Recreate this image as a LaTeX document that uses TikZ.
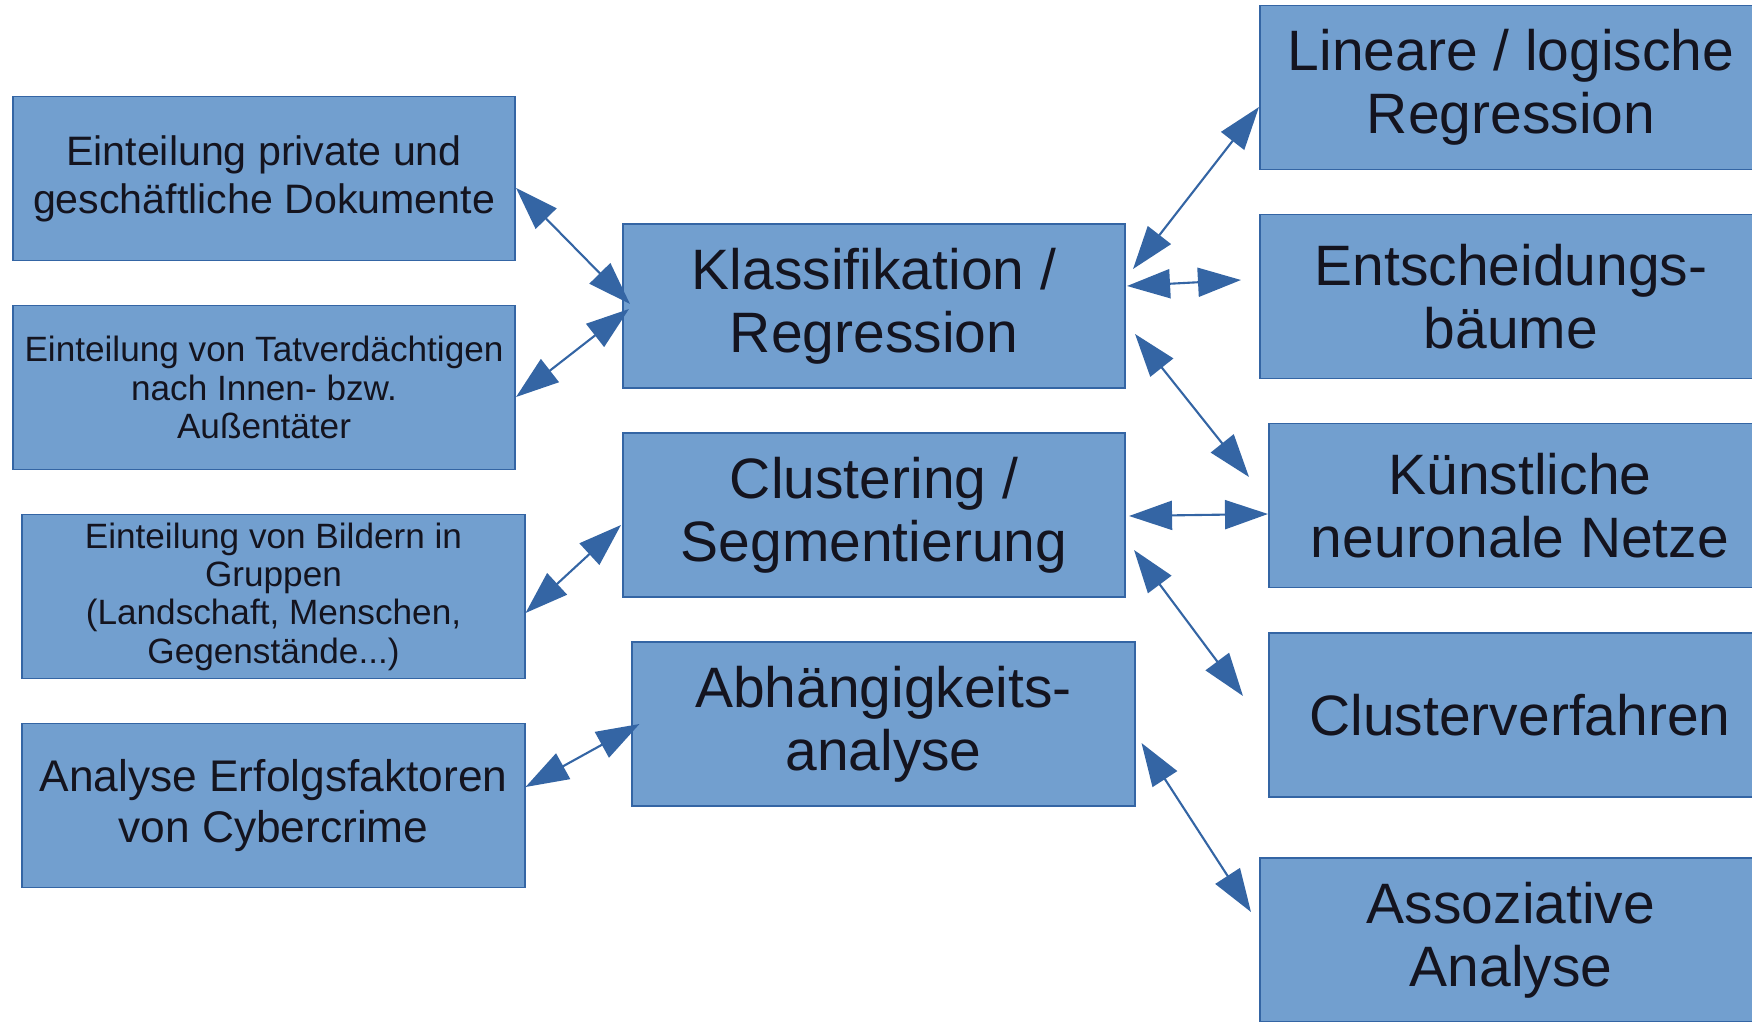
\documentclass[tikz,border=0pt]{standalone}
\usepackage{fontspec}
\setmainfont{Liberation Sans}
\usepackage{xcolor}
\usetikzlibrary{arrows.meta}

\definecolor{boxfill}{HTML}{729FCF}
\definecolor{boxline}{HTML}{3465A4}
\definecolor{arrowblue}{HTML}{3465A4}
\definecolor{textdark}{HTML}{14141F}

\tikzset{
  box/.style={rectangle,draw=boxline,fill=boxfill,line width=0.5pt,minimum width=5.02cm,minimum height=1.64cm,inner sep=0pt,align=center,text=textdark},
  big/.style={font=\fontsize{16.2}{18}\selectfont},
  mid/.style={font=\fontsize{11.7}{13.6}\selectfont},
  midb/.style={font=\fontsize{12.6}{14.3}\selectfont},
  small/.style={font=\fontsize{10}{10.9}\selectfont},
  link/.style={draw=arrowblue,line width=0.6pt,{Triangle[length=4.3mm,width=2.9mm]}-{Triangle[length=4.3mm,width=2.9mm]}}
}

\begin{document}
\begin{tikzpicture}[x=0.01cm,y=-0.01cm]
            \useasboundingbox (0,0) rectangle (1752,1022);
            \clip (0,0) rectangle (1752,1022);

            \node (a) at (264,178.5) [box,mid] {Einteilung private und\\geschäftliche Dokumente};
            \node (b) at (264,387.5) [box,small] {Einteilung von Tatverdächtigen\\nach Innen- bzw.\\Außentäter};
            \node (c) at (273.5,596.5) [box,small] {Einteilung von Bildern in\\Gruppen\\(Landschaft, Menschen,\\Gegenstände...)};
            \node (d) at (273.5,805.5) [box,midb] {Analyse Erfolgsfaktoren\\von Cybercrime};

            \node (e) at (874,306) [box,big] {Klassifikation /\\Regression};
            \node (f) at (874,515) [box,big] {Clustering /\\Segmentierung};
            \node (g) at (883.5,724) [box,big] {Abhängigkeits-\\analyse};

            \node (h) at (1511,87.5) [box,big] {Lineare / logische\\Regression};
            \node (i) at (1511,296.5) [box,big] {Entscheidungs-\\bäume};
            \node (j) at (1520,505.5) [box,big] {Künstliche\\neuronale Netze};
            \node (k) at (1520,715) [box,big] {Clusterverfahren};
            \node (l) at (1511,940) [box,big] {Assoziative\\Analyse};


            \draw[link] ([shift={(0,9.5)}]a.east) -- ([shift={(8,-2)}]e.west);
            \draw[link] ([shift={(0,9.5)}]b.east) -- ([shift={(7,3)}]e.west);
            \draw[link] ([shift={(0,16.5)}]c.east) -- ([shift={(-1,10)}]f.west);
            \draw[link] ([shift={(0,-18.5)}]d.east) -- ([shift={(8,0)}]g.west);

            \draw[link] ([shift={(7,-37)}]e.east) -- ([shift={(0,19.5)}]h.west);
            \draw[link] ([shift={(1,-20)}]e.east) -- ([shift={(-18,-16.5)}]i.west);
            \draw[link] ([shift={(9,28)}]e.east) -- ([shift={(-19,-28.5)}]j.west);
            \draw[link] ([shift={(3,1)}]f.east) -- ([shift={(0,8.5)}]j.west);
            \draw[link] ([shift={(8,35)}]f.east) -- ([shift={(-25,-19)}]k.west);
            \draw[link] ([shift={(6,19)}]g.east) -- ([shift={(-8,-28)}]l.west);

        \end{tikzpicture}
\end{document}
